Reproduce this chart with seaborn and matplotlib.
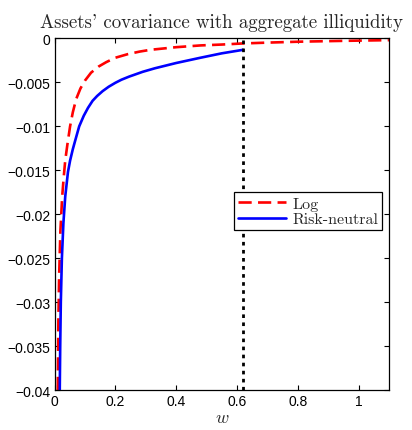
import matplotlib
matplotlib.use("Agg")
import matplotlib.pyplot as plt
import seaborn as sns
import pandas as pd

# Covariance of asset returns with aggregate illiquidity, as a function of w
w_log = [0.0105, 0.0125, 0.015, 0.019, 0.025, 0.030, 0.035, 0.042, 0.051,
         0.060, 0.071, 0.085, 0.100, 0.120, 0.145, 0.170, 0.200, 0.240,
         0.280, 0.315, 0.400, 0.480, 0.550, 0.617, 0.700, 0.810, 0.950,
         1.100]
cov_log = [-0.0400, -0.0320, -0.0270, -0.0220, -0.0180, -0.0158, -0.0139,
           -0.0121, -0.0100, -0.0084, -0.0069, -0.0057, -0.0048, -0.0039,
           -0.0032, -0.0027, -0.0022, -0.0018, -0.0015, -0.0013, -0.0010,
           -0.0008, -0.0007, -0.00058, -0.00048, -0.00037, -0.00028,
           -0.00020]

w_rn = [0.0170, 0.0185, 0.0205, 0.0240, 0.0290, 0.0350, 0.0440, 0.0510,
        0.0600, 0.0680, 0.0810, 0.0960, 0.1100, 0.1250, 0.1400, 0.1580,
        0.1780, 0.2000, 0.2200, 0.2450, 0.2900, 0.3300, 0.4000, 0.4800,
        0.5500, 0.6200]
cov_rn = [-0.0400, -0.0350, -0.0300, -0.0250, -0.0210, -0.0180, -0.0152,
          -0.0139, -0.0126, -0.0116, -0.0100, -0.0088, -0.0079, -0.0071,
          -0.00655, -0.0060, -0.0055, -0.00505, -0.0047, -0.00435, -0.0038,
          -0.0034, -0.0028, -0.0022, -0.0017, -0.0013]

w_cut = 0.62

series_names = ["Log", "Risk-neutral"]
x_ticks = [0, 0.2, 0.4, 0.6, 0.8, 1.0]
x_tick_labels = ["0", "0.2", "0.4", "0.6", "0.8", "1"]
y_ticks = [0, -0.005, -0.01, -0.015, -0.02, -0.025, -0.03, -0.035, -0.04]
y_tick_labels = ["0", "\u22120.005", "\u22120.01", "\u22120.015", "\u22120.02",
                 "\u22120.025", "\u22120.03", "\u22120.035", "\u22120.04"]

sns.set_style("ticks")
plt.rcParams["mathtext.fontset"] = "cm"
plt.rcParams["axes.unicode_minus"] = True

df_log = pd.DataFrame({"w": w_log, "cov": cov_log})
df_rn = pd.DataFrame({"w": w_rn, "cov": cov_rn})

fig = plt.figure(figsize=(4.12, 4.31), dpi=100)
ax = fig.add_axes([0.1325, 0.0928, 0.8115, 0.8158])

sns.lineplot(data=df_log, x="w", y="cov", ax=ax, color=(1, 0, 0), lw=1.9,
             label=series_names[0], sort=True, estimator=None)
sns.lineplot(data=df_rn, x="w", y="cov", ax=ax, color=(0, 0, 1), lw=1.9,
             label=series_names[1], sort=True, estimator=None)
ax.lines[0].set_linestyle((0, (5.0, 2.4)))
ax.axvline(w_cut, color="black", lw=2.0, linestyle=(0, (1.3, 1.6)))

ax.set_xlim(0, 1.1)
ax.set_ylim(-0.04, 0)
ax.set_xticks(x_ticks)
ax.set_xticklabels(x_tick_labels)
ax.set_yticks(y_ticks)
ax.set_yticklabels(y_tick_labels)

for lbl in ax.get_xticklabels() + ax.get_yticklabels():
    lbl.set_fontfamily("Liberation Sans")
    lbl.set_fontsize(10)

ax.tick_params(direction="in", length=3.5, width=0.8, top=True, right=True,
               colors="black", pad=3)
for sp in ax.spines.values():
    sp.set_visible(True)
    sp.set_color("black")
    sp.set_linewidth(0.9)

ax.set_title("Assets' covariance with aggregate illiquidity",
             fontfamily="cmr10", fontsize=13.6, pad=8)
ax.set_xlabel("$w$", fontsize=13, labelpad=0)
ax.set_ylabel("")

leg = ax.legend(loc="upper right", bbox_to_anchor=(0.979, 0.562),
                borderaxespad=0, frameon=True, fancybox=False,
                prop={"family": "cmr10", "size": 11.5},
                handlelength=3.0, handletextpad=0.4, borderpad=0.25,
                labelspacing=0.1)
leg.get_frame().set_edgecolor("black")
leg.get_frame().set_linewidth(0.9)
leg.get_frame().set_alpha(1)

fig.savefig("out.png", dpi=100, facecolor="white")
